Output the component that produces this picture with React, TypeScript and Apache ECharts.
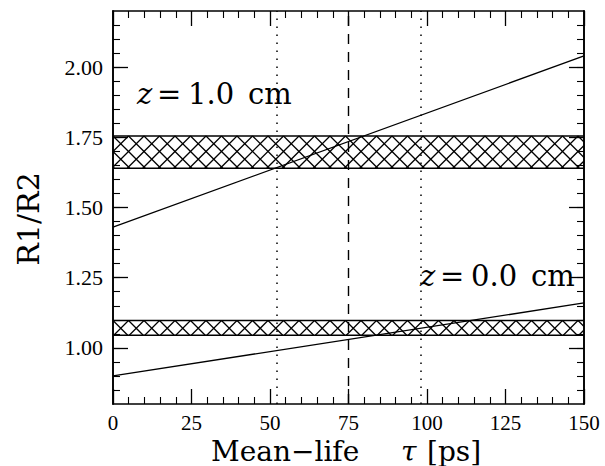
import React, { useEffect, useRef } from 'react';
import * as echarts from 'echarts';

// ---- data ----
const X_MIN = 0;
const X_MAX = 150;
const X_MAJOR_STEP = 25;
const Y_MIN = 0.8;
const Y_MAX = 2.2;
const Y_MAJOR_TICKS = [1.0, 1.25, 1.5, 1.75, 2.0];
const Y_MINOR_TICKS = [
  0.85, 0.9, 0.95, 1.0, 1.05, 1.1, 1.15, 1.2, 1.25, 1.3, 1.35, 1.4, 1.45, 1.5,
  1.55, 1.6, 1.65, 1.7, 1.75, 1.8, 1.85, 1.9, 1.95, 2.0, 2.05, 2.1, 2.15,
];
// measured ratio bands [low, high]
const BANDS = [
  [1.045, 1.0975],
  [1.64, 1.755],
];
// predicted R1/R2 vs mean life
const LINE_Z10 = [
  [0, 1.43],
  [150, 2.04],
];
const LINE_Z00 = [
  [0, 0.9],
  [150, 1.16],
];
const DOTTED_X = [52, 98];
const DASHED_X = [75];

const SERIF = '"DejaVu Serif", serif';
const TICK_FONT = '"Liberation Serif", serif';

export default function App() {
  const ref = useRef<HTMLDivElement>(null);

  useEffect(() => {
    if (!ref.current) return;
    const chart = echarts.init(ref.current, undefined, { renderer: 'svg' });

    const axisLine = { show: true, onZero: false, lineStyle: { color: '#000', width: 1.6 } };
    const majorTick = (customValues?: number[]) => ({
      show: true,
      inside: true,
      length: 15,
      ...(customValues ? { customValues } : {}),
      lineStyle: { color: '#000', width: 1.3 },
    });
    const minorTickY = {
      show: true,
      inside: true,
      length: 7,
      customValues: Y_MINOR_TICKS,
      lineStyle: { color: '#000', width: 1.1 },
    };

    const xBase = {
      type: 'value',
      min: X_MIN,
      max: X_MAX,
      interval: X_MAJOR_STEP,
      axisLine,
      axisTick: majorTick(),
      minorTick: { show: true, splitNumber: 5, length: 7, lineStyle: { color: '#000', width: 1.1 } },
      splitLine: { show: false },
      minorSplitLine: { show: false },
    };
    const yBase = {
      type: 'value',
      min: Y_MIN,
      max: Y_MAX,
      axisLine,
      splitLine: { show: false },
    };

    const bandRender = (params: any, api: any) => {
      const lo = api.value(0);
      const hi = api.value(1);
      const tl = api.coord([X_MIN, hi]);
      const br = api.coord([X_MAX, lo]);
      const x0 = tl[0], y0 = tl[1], x1 = br[0], y1 = br[1];
      const p = 15.5;
      const w = x1 - x0;
      const h = y1 - y0;
      const style = { stroke: '#000', lineWidth: 1.3, fill: null };
      const children: any[] = [];
      const kMin = -Math.ceil(h / p) - 1;
      const kMax = Math.ceil((w + h) / p) + 1;
      for (let k = kMin; k <= kMax; k++) {
        const c = x0 - y0 + k * p; // x - y = c
        let xa = Math.max(x0, y0 + c);
        let xb = Math.min(x1, y1 + c);
        if (xb > xa) {
          children.push({ type: 'line', shape: { x1: xa, y1: xa - c, x2: xb, y2: xb - c }, style });
        }
        const d = x0 + y0 + k * p; // x + y = d
        xa = Math.max(x0, d - y1);
        xb = Math.min(x1, d - y0);
        if (xb > xa) {
          children.push({ type: 'line', shape: { x1: xa, y1: d - xa, x2: xb, y2: d - xb }, style });
        }
      }
      const border = { stroke: '#000', lineWidth: 1.5, fill: null };
      children.push({ type: 'line', shape: { x1: x0, y1: y0, x2: x1, y2: y0 }, style: border });
      children.push({ type: 'line', shape: { x1: x0, y1: y1, x2: x1, y2: y1 }, style: border });
      return { type: 'group', children };
    };

    const lineSeries = (data: number[][]) => ({
      type: 'line',
      data,
      xAxisIndex: 0,
      yAxisIndex: 0,
      symbol: 'none',
      silent: true,
      lineStyle: { color: '#000', width: 1.3 },
    });

    const txt = (text: string, x: number, y: number, size: number, italic = false, extra: any = {}) => ({
      type: 'text',
      x,
      y,
      silent: true,
      ...extra,
      style: {
        text,
        fill: '#000',
        fontFamily: SERIF,
        fontSize: size,
        fontStyle: italic ? 'italic' : 'normal',
        align: extra.align || 'left',
        verticalAlign: 'middle',
      },
    });

    chart.setOption({
      animation: false,
      backgroundColor: '#fff',
      grid: { left: 113, right: 21, top: 11, bottom: 62, outerBoundsMode: 'none' },
      xAxis: [
        {
          ...xBase,
          position: 'bottom',
          axisLabel: {
            show: true,
            margin: 11,
            color: '#000',
            fontFamily: TICK_FONT,
            fontSize: 21,
            lineHeight: 16,
            showMinLabel: true,
            showMaxLabel: true,
          },
        },
        { ...xBase, position: 'top', axisLabel: { show: false } },
      ],
      yAxis: [
        {
          ...yBase,
          position: 'left',
          axisTick: majorTick(Y_MAJOR_TICKS),
          axisLabel: {
            show: true,
            customValues: Y_MAJOR_TICKS,
            formatter: (v: number) => v.toFixed(2),
            margin: 10,
            color: '#000',
            fontFamily: TICK_FONT,
            fontSize: 22,
            lineHeight: 16,
          },
        },
        { ...yBase, position: 'left', axisTick: minorTickY, axisLabel: { show: false } },
        { ...yBase, position: 'right', axisTick: majorTick(Y_MAJOR_TICKS), axisLabel: { show: false } },
        { ...yBase, position: 'right', axisTick: minorTickY, axisLabel: { show: false } },
      ],
      series: [
        {
          type: 'custom',
          xAxisIndex: 0,
          yAxisIndex: 0,
          data: BANDS,
          renderItem: bandRender,
          silent: true,
          z: 1,
        },
        {
          ...lineSeries(LINE_Z10),
          z: 3,
          markLine: {
            silent: true,
            symbol: ['none', 'none'],
            label: { show: false },
            lineStyle: { color: '#000', width: 1.2 },
            data: [
              ...DOTTED_X.map((x) => ({ xAxis: x, lineStyle: { type: [1.5, 6.5], color: '#000', width: 1.5 } })),
              ...DASHED_X.map((x) => ({ xAxis: x, lineStyle: { type: [10, 8], color: '#000', width: 1.4 } })),
            ],
          },
        },
        { ...lineSeries(LINE_Z00), z: 3 },
      ],
      graphic: [
        // annotation z = 1.0 cm
        txt('z', 137, 94, 29, true),
        txt('=', 157, 94, 29),
        txt('1.0', 188, 94, 29),
        txt('cm', 248, 94, 29),
        // annotation z = 0.0 cm
        txt('z', 420, 276, 29, true),
        txt('=', 440, 276, 29),
        txt('0.0', 471, 276, 29),
        txt('cm', 531, 276, 29),
        // x axis title
        txt('Mean\u2212life', 211, 451, 28),
        txt('\u03c4', 401, 451, 28, true),
        txt('[ps]', 427, 451, 28),
        // y axis title
        txt('R1/R2', 28, 219, 30, false, { rotation: Math.PI / 2, align: 'center' }),
      ],
    });

    return () => chart.dispose();
  }, []);

  return (
    <div
      ref={ref}
      style={{ position: 'fixed', left: 0, top: 0, width: 605, height: 466, background: '#fff' }}
    />
  );
}
